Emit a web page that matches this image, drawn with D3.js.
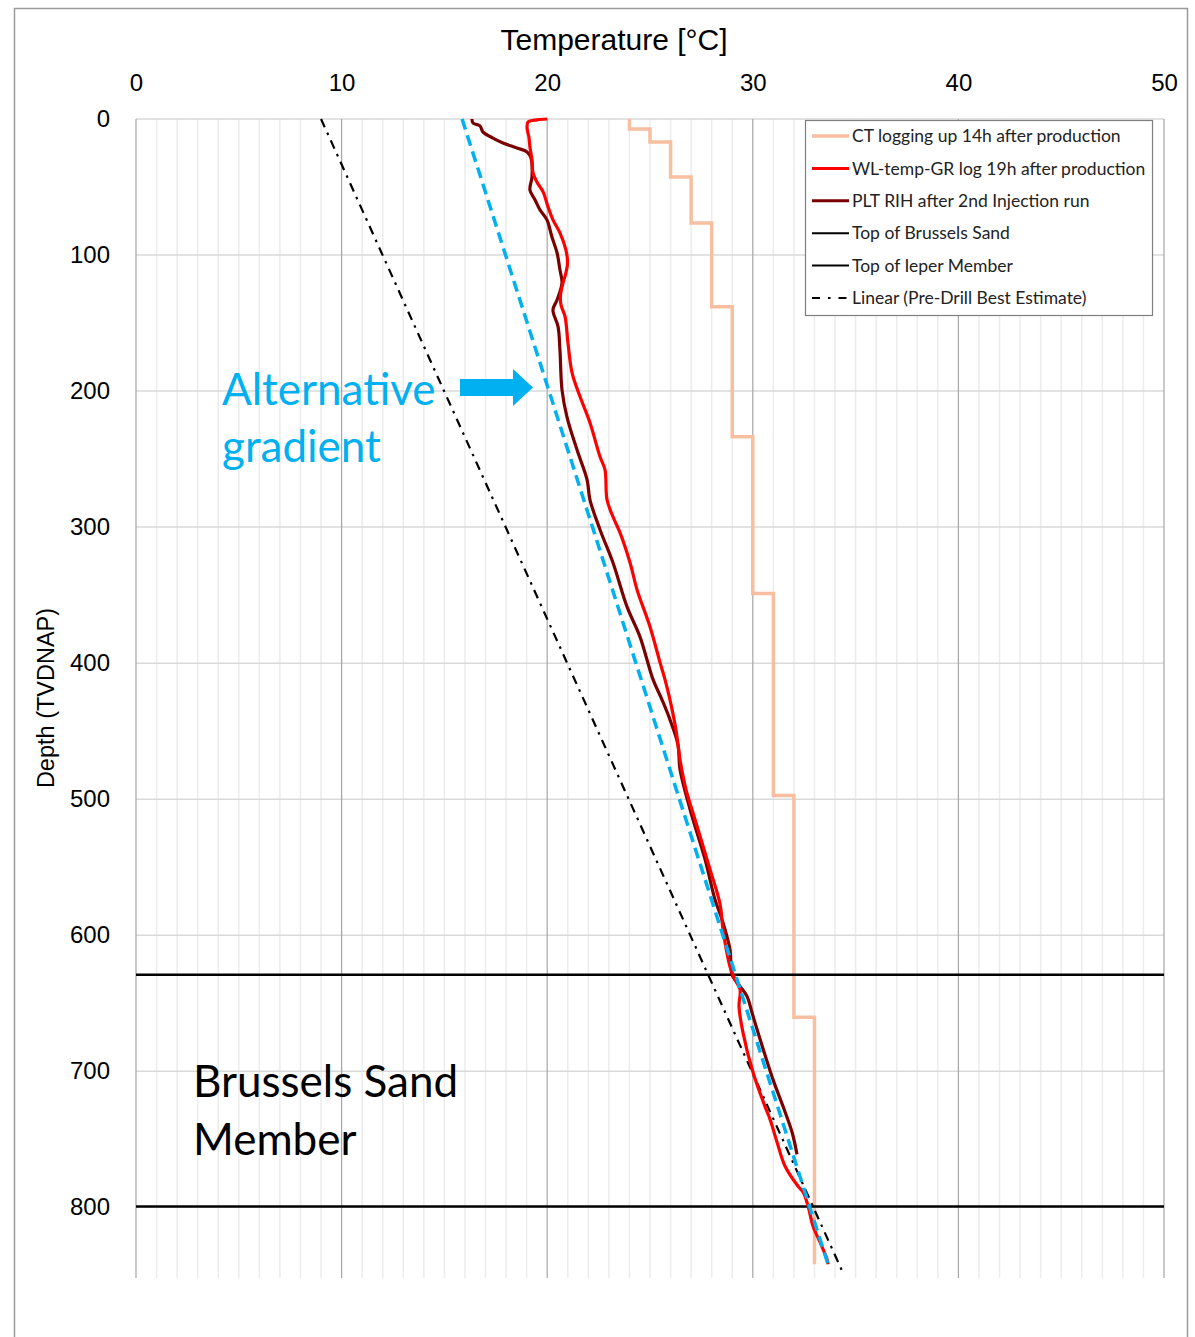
<!DOCTYPE html>
<html>
<head>
<meta charset="utf-8">
<script src="https://cdn.jsdelivr.net/npm/d3@7/dist/d3.min.js"></script>
<style>
  html, body { margin: 0; padding: 0; background: #fff; }
  svg { display: block; }
</style>
</head>
<body>
<svg id="chart" width="1195" height="1337"></svg>
<script>
// ---- Data: temperature [°C] vs depth [m TVDNAP] ----
const tempTicks = [0, 10, 20, 30, 40, 50];
const depthTicks = [0, 100, 200, 300, 400, 500, 600, 700, 800];

// CT logging up 14h after production (stepped readout)
const ctLog = [
  [24, 0], [24, 7.3], [25, 7.3], [25, 16.9], [26, 16.9], [26, 42.6],
  [27, 42.6], [27, 76.4], [28, 76.4], [28, 138.1], [29, 138.1], [29, 233.6],
  [30, 233.6], [30, 348.9], [31, 348.9], [31, 497.3], [32, 497.3], [32, 660.4],
  [33, 660.4], [33, 841.9]
];

// WL-temp-GR log 19h after production
const wlLog = [
  [20.0, 0], [19.5, 0.6], [19.07, 2.2], [19.02, 6.6], [19.11, 13.2], [19.16, 20.6], [19.26, 30.1],
  [19.31, 39.7], [19.50, 46.3], [19.80, 53.6], [20.04, 64.6], [20.28, 74.2], [20.62, 83.7],
  [20.91, 96.2], [20.99, 105.8], [20.91, 113.1], [20.77, 120.5], [20.65, 129.3], [20.67, 136.6],
  [20.87, 145.5], [21.01, 164.6], [21.21, 186.6], [21.60, 204.2], [22.08, 223.3], [22.57, 248.3],
  [22.81, 257.8], [22.91, 279.9], [23.20, 292.4], [23.54, 304.1], [24.03, 326.2], [24.37, 346.0],
  [25.00, 373.2], [25.49, 399.6], [25.73, 412.1], [25.97, 426.8], [26.26, 448.8], [26.46, 470.9],
  [26.75, 492.9], [27.19, 515.0], [27.92, 551.7], [28.41, 577.4], [28.55, 595.8], [28.89, 623.0],
  [29.13, 632.5], [29.38, 639.9], [29.33, 652.3], [29.52, 671.4], [30.01, 700.8], [30.59, 725.8],
  [30.84, 735.4], [31.18, 752.2], [31.57, 769.9], [32.20, 784.6], [32.45, 789.0], [32.69, 799.3],
  [32.93, 814.0], [33.27, 825.7], [33.61, 838.2], [33.66, 841.9]
];

// PLT RIH after 2nd injection run
const pltLog = [
  [16.34, 0], [16.39, 2.9], [16.73, 5.1], [16.88, 9.6], [17.36, 14.0], [17.85, 17.6],
  [18.53, 21.3], [19.02, 24.2], [19.21, 28.7], [19.26, 42.6], [19.16, 52.2], [19.41, 59.5],
  [19.65, 66.8], [19.99, 74.2], [20.23, 86.7], [20.48, 98.4], [20.62, 110.9], [20.72, 120.5],
  [20.48, 133.0], [20.28, 140.3], [20.53, 152.8], [20.62, 169.7], [20.72, 199.1], [20.96, 218.9],
  [21.45, 243.2], [21.94, 265.2], [22.08, 279.9], [22.57, 301.9], [23.20, 326.2], [23.88, 358.5],
  [24.51, 380.5], [25.15, 412.1], [25.58, 426.8], [25.97, 441.5], [26.36, 459.9], [26.46, 478.2],
  [26.95, 507.6], [27.68, 544.4], [28.16, 573.7], [28.50, 588.4], [28.89, 610.5], [28.99, 628.8],
  [29.38, 637.6], [29.72, 645.0], [29.96, 656.8], [30.25, 671.4], [30.98, 706.0], [31.47, 725.8],
  [31.91, 744.9], [32.15, 761.1]
];

// Formation tops [m]
const topBrusselsSand = 629;
const topIeperMember = 799.5;

// Pre-drill best estimate (linear trend) and alternative gradient
const preDrillTrend = [[9.0, 0], [34.35, 847]];
const altGradient = [[15.86, 0], [33.66, 842]];

// ---- Layout ----
const svg = d3.select("#chart");
const x = d3.scaleLinear().domain([0, 50]).range([136, 1164]);
const y = d3.scaleLinear().domain([0, 852]).range([119, 1278]);

const FONT_AX = "'Liberation Sans', Arial, sans-serif";
const FONT_TX = "Lato, 'Open Sans', sans-serif";

// Picture frame
svg.append("rect")
  .attr("x", 14.5).attr("y", 8.5).attr("width", 1173).attr("height", 1340)
  .attr("fill", "#fff").attr("stroke", "#9a9a9a").attr("stroke-width", 1.5);

// Minor vertical gridlines (every 1 °C)
const g = svg.append("g");
g.selectAll("line.minor").data(d3.range(1, 50).filter(d => d % 10 !== 0))
  .join("line")
  .attr("x1", d => x(d)).attr("x2", d => x(d))
  .attr("y1", y(0)).attr("y2", y(852))
  .attr("stroke", "#ececec").attr("stroke-width", 1.5);

// Horizontal gridlines (every 100 m)
g.selectAll("line.hgrid").data(depthTicks)
  .join("line")
  .attr("x1", x(0)).attr("x2", x(50))
  .attr("y1", d => y(d)).attr("y2", d => y(d))
  .attr("stroke", "#d9d9d9").attr("stroke-width", 1.5);

// Major vertical gridlines (every 10 °C)
g.selectAll("line.major").data(tempTicks)
  .join("line")
  .attr("x1", d => x(d)).attr("x2", d => x(d))
  .attr("y1", y(0)).attr("y2", y(852))
  .attr("stroke", "#a6a6a6").attr("stroke-width", 1.2);

// Axes
const xAxis = d3.axisTop(x).tickValues(tempTicks).tickSize(0).tickPadding(28);
const xg = svg.append("g").attr("transform", `translate(0,${y(0)})`).call(xAxis);
xg.select(".domain").remove();
xg.selectAll("text").attr("font-family", FONT_AX).attr("font-size", 24).attr("fill", "#000");

const yAxis = d3.axisLeft(y).tickValues(depthTicks).tickSize(0).tickPadding(26);
const yg = svg.append("g").attr("transform", `translate(${x(0)},0)`).call(yAxis);
yg.select(".domain").remove();
yg.selectAll("text").attr("font-family", FONT_AX).attr("font-size", 24).attr("fill", "#000");

svg.append("text")
  .attr("x", 614).attr("y", 50).attr("text-anchor", "middle")
  .attr("font-family", FONT_AX).attr("font-size", 30).attr("fill", "#000")
  .text("Temperature [°C]");

svg.append("text")
  .attr("transform", "translate(54,698) rotate(-90)")
  .attr("text-anchor", "middle")
  .attr("font-family", FONT_AX).attr("font-size", 23.5).attr("fill", "#000")
  .text("Depth (TVDNAP)");

// Series
const line = d3.line().x(d => x(d[0])).y(d => y(d[1]));
const smooth = d3.line().x(d => x(d[0])).y(d => y(d[1])).curve(d3.curveCatmullRom.alpha(0.5));

svg.append("path").datum(ctLog).attr("d", line)
  .attr("fill", "none").attr("stroke", "#f7bf9f").attr("stroke-width", 3.5);

// Formation tops
[topBrusselsSand, topIeperMember].forEach(d => {
  svg.append("line")
    .attr("x1", x(0)).attr("x2", x(50))
    .attr("y1", y(d)).attr("y2", y(d))
    .attr("stroke", "#000").attr("stroke-width", 2.5);
});

svg.append("path").datum(preDrillTrend).attr("d", line)
  .attr("fill", "none").attr("stroke", "#000").attr("stroke-width", 2.2)
  .attr("stroke-dasharray", "9,6,2.5,6");

svg.append("path").datum(pltLog).attr("d", smooth)
  .attr("fill", "none").attr("stroke", "#7b0000").attr("stroke-width", 3.2)
  .attr("stroke-linejoin", "round");

svg.append("path").datum(wlLog).attr("d", smooth)
  .attr("fill", "none").attr("stroke", "#ff0000").attr("stroke-width", 3.2)
  .attr("stroke-linejoin", "round");

svg.append("path").datum(altGradient).attr("d", line)
  .attr("fill", "none").attr("stroke", "#00b0f0").attr("stroke-width", 3.5)
  .attr("stroke-dasharray", "11,6");

// Legend
const legendItems = [
  { label: "CT logging up 14h after production", color: "#f7bf9f", width: 3.5, dash: null },
  { label: "WL-temp-GR log 19h after production", color: "#ff0000", width: 3, dash: null },
  { label: "PLT RIH after 2nd Injection run", color: "#7b0000", width: 3, dash: null },
  { label: "Top of Brussels Sand", color: "#000", width: 2, dash: null },
  { label: "Top of Ieper Member", color: "#000", width: 2, dash: null },
  { label: "Linear (Pre-Drill Best Estimate)", color: "#000", width: 2.2, dash: "8,8,2.5,8" }
];
const lg = svg.append("g");
lg.append("rect")
  .attr("x", 805.5).attr("y", 120.5).attr("width", 347).attr("height", 195)
  .attr("fill", "#fff").attr("stroke", "#7f7f7f").attr("stroke-width", 1.2);
legendItems.forEach((it, i) => {
  const cy = 136 + i * 32.4;
  lg.append("line")
    .attr("x1", 812).attr("x2", 849).attr("y1", cy).attr("y2", cy)
    .attr("stroke", it.color).attr("stroke-width", it.width)
    .attr("stroke-dasharray", it.dash);
  lg.append("text")
    .attr("x", 852).attr("y", cy).attr("dy", "0.35em")
    .attr("font-family", FONT_TX).attr("font-size", 17.5).attr("fill", "#222")
    .text(it.label);
});

// Annotation: alternative gradient
const ann = svg.append("g");
ann.append("text").attr("x", 222).attr("y", 405)
  .attr("font-family", FONT_TX).attr("font-size", 44).attr("fill", "#00b0f0")
  .text("Alternative");
ann.append("text").attr("x", 222).attr("y", 462)
  .attr("font-family", FONT_TX).attr("font-size", 44).attr("fill", "#00b0f0")
  .text("gradient");
ann.append("path")
  .attr("d", "M460,379 L513,379 L513,369 L533,387.5 L513,406 L513,396 L460,396 Z")
  .attr("fill", "#00b0f0");

// Annotation: formation interval
svg.append("text").attr("x", 193).attr("y", 1097)
  .attr("font-family", FONT_TX).attr("font-size", 44).attr("fill", "#000")
  .text("Brussels Sand");
svg.append("text").attr("x", 193).attr("y", 1155)
  .attr("font-family", FONT_TX).attr("font-size", 44).attr("fill", "#000")
  .text("Member");
</script>
</body>
</html>
